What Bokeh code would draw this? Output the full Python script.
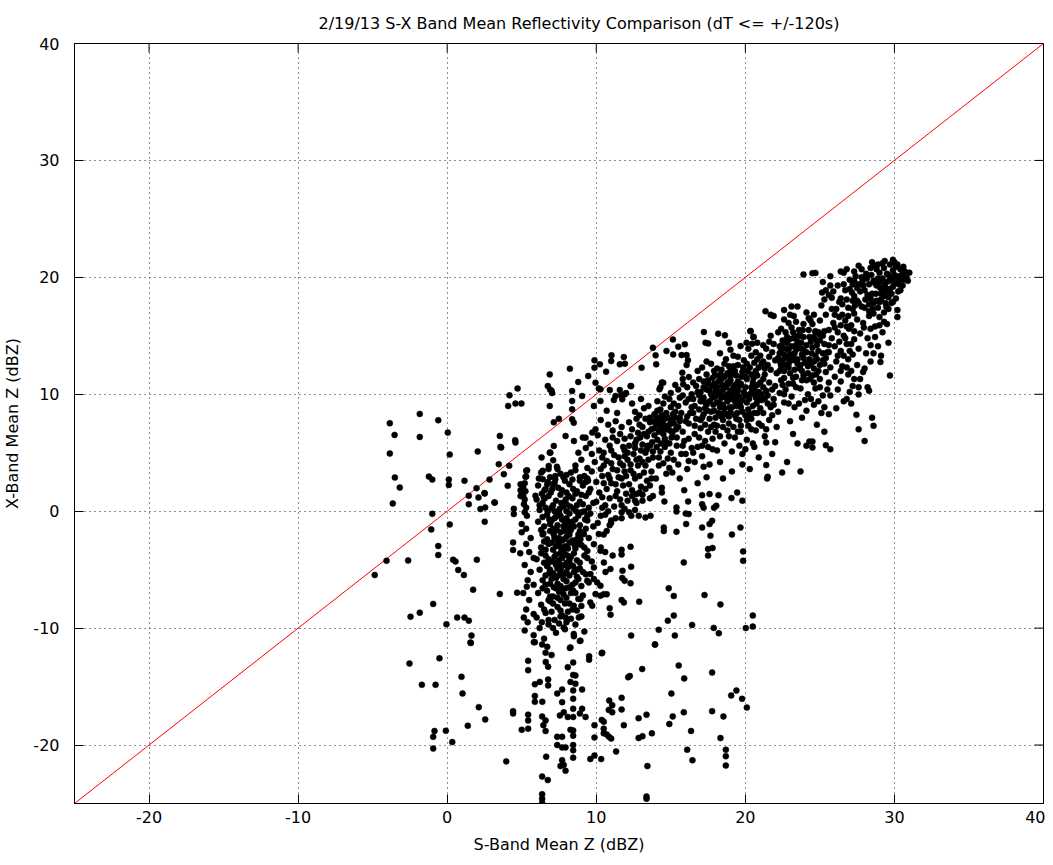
from bokeh.plotting import figure
from bokeh.models import SingleIntervalTicker, Range1d, CustomJSTickFormatter
from bokeh.embed import file_html
from bokeh.resources import INLINE

# ---------------- data ----------------
title_text = "2/19/13  S-X Band Mean Reflectivity Comparison (dT <= +/-120s)"
x_label = "S-Band Mean Z (dBZ)"
y_label = "X-Band Mean Z (dBZ)"
axis_limits = [-25, 40]
tick_values = [-20, -10, 0, 10, 20, 30, 40]
one_to_one = [-25, 40]

# sparse points left of the main cloud  (S-band, X-band)
left_pts = [
    (-3.85, 7.52), (-3.53, 6.52), (-3.85, 4.93), (-3.51, 2.88), (-3.18, 2.02), (-1.84, 8.32), (-1.84, 6.35),
    (-0.6, 7.78), (-1.23, 2.96), (-1.0, 2.7), (0.04, 6.72), (0.17, 4.84), (0.11, 2.7), (0.11, 2.25), (1.16, 2.6),
    (2.05, 5.1), (1.97, 1.97), (1.45, 1.32), (2.5, 1.55), (2.84, 2.7), (3.53, 6.44), (3.62, 5.44), (3.46, 4.02),
    (3.8, 3.17), (4.16, 3.88), (4.06, 2.17), (4.18, 9.91), (4.09, 9.0), (4.72, 10.5), (4.58, 9.2), (4.98, 9.2),
    (4.56, 6.07), (3.57, 5.5), (4.58, 5.87), (3.17, 0.74),
    (-3.65, 0.66), (-1.0, -0.22), (-1.07, -1.56), (-0.6, -2.98), (-0.6, -3.75), (-4.07, -4.24), (-4.86, -5.46),
    (-2.62, -4.21), (0.17, -1.13), (0.4, -4.15), (0.56, -4.3), (0.74, -5.03), (1.12, -5.46), (1.99, -4.15),
    (1.74, -6.71), (3.53, -7.08), (4.69, -6.97), (5.34, -6.46), (-0.94, -7.93), (-2.46, -9.02), (-1.84, -8.68),
    (-0.05, -9.67), (0.67, -9.1), (1.16, -9.1), (1.45, -9.36), (1.63, -10.64), (1.56, -11.24), (2.52, 1.51),
    (3.19, 0.74), (2.52, -0.9), (2.1, 1.17), (2.23, 0.18), (2.55, 0.32), (1.45, 0.6), (4.42, -2.67), (4.42, -3.32),
    (4.47, 0.2), (4.47, -0.25),
    (-2.53, -13.03), (-0.52, -12.58), (-1.7, -14.85), (-0.78, -14.85), (0.96, -14.17), (1.03, -15.59),
    (1.59, -11.27), (2.12, -16.76), (2.55, -17.81), (1.38, -18.35), (-0.85, -18.8), (-0.94, -19.3),
    (-0.09, -18.78), (0.34, -19.75), (-0.94, -20.3), (3.96, -21.4), (4.42, -17.1), (4.42, -17.3),
]

# vertical cloud around S = 5..10 dBZ
column_pts = [
    (4.92, 2.3), (4.92, 1.8), (4.92, 1.3), (5.3, 2.96), (5.3, 3.45), (5.92, 1.32), (6.33, 4.59), (6.41, 3.45),
    (6.41, 2.74), (6.71, 2.31), (7.11, 2.31), (6.53, 1.8), (6.48, 1.17), (6.88, 11.7), (6.75, 10.7), (7.04, 10.1),
    (6.9, 10.4), (7.0, 10.3), (6.88, 9.0), (7.15, 7.6), (7.49, 7.9), (7.15, 5.58), (6.88, 5.01), (7.11, 4.36),
    (7.36, 3.8), (7.6, 3.2), (5.36, 3.5), (5.25, 2.94), (6.92, 5.0), (6.81, 3.87),
    (5.2, 2.4), (5.1, 2.0), (5.25, 1.7), (5.1, 1.3), (5.2, 1.0), (5.15, 0.6), (5.3, 0.3), (5.2, -0.1),
    (5.35, -0.4), (5.05, 1.6), (5.0, -1.1), (5.0, -1.8), (5.3, -1.5), (5.6, -2.3), (5.3, -2.8), (4.9, -3.6),
    (5.5, -3.5), (5.8, -4.0), (5.2, -4.6), (5.6, -5.2), (5.4, -5.9), (5.8, -6.3), (5.1, -7.0), (5.5, -7.6),
    (5.3, -8.4), (5.8, -8.8), (5.4, -9.5), (5.2, -10.2), (5.8, -10.6), (5.14, -9.1), (5.81, -11.2),
    (6.3, 3.3), (6.9, 2.9), (7.4, 3.6), (8.0, 3.1), (8.6, 3.5), (9.2, 3.0), (9.7, 3.4),
    (6.1, 2.2), (6.6, 1.9), (7.2, 2.4), (7.7, 1.8), (8.2, 2.3), (8.7, 1.7), (9.1, 2.2), (9.6, 1.9), (7.9, 2.6),
    (6.0, 1.0), (6.4, 0.7), (6.8, 1.3), (7.3, 0.9), (7.6, 1.4), (8.0, 0.6), (8.4, 1.1), (8.9, 0.8), (9.3, 1.3),
    (9.8, 0.7), (7.1, 0.5), (8.6, 1.5),
    (6.2, 0.1), (6.7, -0.3), (7.0, 0.3), (7.5, -0.1), (7.8, 0.4), (8.2, -0.2), (8.5, 0.2), (8.8, -0.4),
    (9.2, 0.0), (9.6, -0.2), (7.3, -0.45), (8.0, 0.0),
    (6.1, -0.9), (6.5, -1.3), (7.0, -0.8), (7.4, -1.2), (7.7, -0.7), (8.1, -1.4), (8.4, -0.9), (8.9, -1.2),
    (9.4, -0.8), (9.8, -1.3), (7.9, -1.0),
    (6.4, -2.0), (6.9, -1.7), (7.2, -2.3), (7.6, -1.8), (8.0, -2.2), (8.3, -1.6), (8.7, -2.4), (9.1, -1.9),
    (9.5, -2.3), (7.4, -2.6),
    (6.3, -3.1), (6.8, -2.8), (7.1, -3.3), (7.5, -2.9), (7.8, -3.4), (8.2, -2.7), (8.6, -3.2), (9.0, -2.9),
    (9.4, -3.4), (7.9, -3.0),
    (6.0, -4.1), (6.6, -3.8), (7.0, -4.3), (7.3, -3.7), (7.7, -4.0), (8.0, -4.4), (8.3, -3.9), (8.7, -4.2),
    (9.2, -3.8), (9.7, -4.3), (7.5, -4.5),
    (6.2, -5.0), (6.7, -4.7), (7.1, -5.3), (7.4, -4.9), (7.8, -5.4), (8.1, -4.8), (8.5, -5.2), (8.9, -4.9),
    (9.3, -5.4), (7.6, -5.1),
    (6.4, -5.9), (6.9, -6.2), (7.3, -5.7), (7.6, -6.4), (8.0, -6.0), (8.4, -6.3), (8.8, -5.8), (9.5, -6.1),
    (6.1, -7.0), (6.7, -6.8), (7.1, -7.3), (7.5, -6.9), (8.0, -7.4), (8.6, -7.0), (9.1, -7.2),
    (6.3, -8.0), (6.9, -7.7), (7.4, -8.2), (7.9, -7.9), (8.4, -8.4), (9.0, -8.1), (9.6, -7.8),
    (6.0, -9.1), (6.6, -8.7), (7.2, -9.3), (7.7, -8.9), (8.3, -9.2), (9.0, -9.0),
    (6.2, -10.0), (6.8, -9.7), (7.3, -10.4), (7.9, -10.1), (8.5, -10.7), (9.2, -10.3), (6.5, -10.9),
    (9.17, -1.96), (8.94, -2.39), (9.84, -2.82), (10.17, -1.96), (10.28, -3.39), (10.51, -4.39), (9.84, -4.81),
    (9.61, -5.38), (9.39, -5.95), (9.84, -5.81), (10.06, -6.09), (10.28, -6.38), (9.95, -7.09), (10.28, -7.23),
    (9.73, -8.09), (8.94, -7.52), (8.49, -8.09), (8.83, -9.09), (7.94, -9.09), (7.82, -9.94), (8.49, -10.5),
    (8.94, -11.08), (8.27, -11.65),
    (5.43, -12.8), (5.43, -13.6), (5.88, -14.8), (6.21, -14.6), (5.88, -15.8), (5.88, -16.3), (6.38, -16.3),
    (5.88, -11.2), (6.37, -11.4), (6.71, -11.6), (6.6, -12.1), (7.0, -12.3), (6.61, -12.9), (6.77, -13.3),
    (6.77, -14.4), (6.77, -14.9), (6.37, -17.55), (6.6, -17.9), (6.45, -18.3), (6.6, -18.8), (6.64, -21.0),
    (6.37, -22.7), (6.75, -23.0), (6.37, -24.2), (6.37, -24.6), (6.37, -24.95), (7.38, -19.3), (7.38, -20.0),
    (7.38, -15.6), (7.56, -17.47), (7.6, -21.8), (5.43, -17.4), (5.43, -17.9), (5.43, -18.6), (5.0, -18.7),
    (8.23, -11.7), (8.9, -11.1), (9.52, -12.4), (9.52, -12.7), (10.37, -12.15), (8.09, -13.34), (8.45, -12.94),
    (8.45, -14.0), (8.6, -14.05), (8.27, -14.6), (8.6, -14.76), (8.45, -15.33), (8.45, -16.04), (7.71, -15.25),
    (7.71, -16.33), (9.05, -15.25), (8.9, -17.3), (9.05, -16.9), (8.45, -16.9), (8.45, -17.6), (9.28, -17.6),
    (7.82, -17.2), (8.09, -17.6), (8.27, -18.7), (8.45, -18.75), (8.45, -19.2), (7.71, -19.3), (7.71, -20.2),
    (7.94, -20.2), (8.45, -20.0), (8.45, -20.45), (8.45, -21.08), (7.71, -21.3), (7.82, -21.7), (7.94, -22.2),
    (9.88, -18.3), (9.88, -19.35), (9.88, -20.9), (9.6, -21.2), (10.33, -21.2),
]

# more points of the dense vertical cloud
column_fill_pts = [
    (6.15, 2.8), (6.75, 2.5), (7.25, 3.0), (7.8, 2.9), (8.4, 2.7), (8.9, 2.9), (9.45, 2.6),
    (6.35, 1.5), (6.95, 1.6), (7.45, 2.0), (8.0, 1.6), (8.45, 1.9), (9.0, 1.4), (9.5, 1.6),
    (6.2, 0.5), (6.6, 0.3), (7.2, 0.0), (7.65, 0.7), (8.25, 0.4), (8.7, 0.5), (9.1, 0.6), (9.5, 0.3), (7.95, 1.0),
    (6.4, -0.5), (6.9, -1.1), (7.2, -0.6), (7.6, -0.4), (8.0, -0.6), (8.6, -0.7), (9.0, -0.1), (9.4, -0.4),
    (6.75, 0.0), (6.3, -1.6), (6.7, -2.4), (7.1, -1.5), (7.5, -2.3), (7.9, -1.7), (8.2, -2.0), (8.5, -1.3),
    (8.9, -1.7), (9.3, -1.5), (6.5, -2.6), (7.0, -2.7), (7.3, -3.0), (7.7, -2.5), (8.1, -3.2), (8.4, -2.5),
    (8.8, -2.8), (9.2, -3.1), (7.6, -3.6), (6.3, -3.6), (6.8, -4.1), (7.2, -3.9), (7.5, -4.2), (7.9, -3.7),
    (8.2, -4.2), (8.5, -3.6), (8.9, -4.4), (9.4, -4.0), (6.5, -4.4), (6.9, -5.0), (7.3, -4.6), (7.65, -4.8),
    (8.0, -5.2), (8.3, -4.6), (8.7, -5.0), (9.1, -5.2), (7.2, -5.6), (6.6, -5.5), (7.0, -5.8), (7.4, -6.2),
    (7.8, -5.8), (8.2, -6.5), (8.6, -6.1), (9.0, -6.4), (7.7, -6.8), (6.4, -6.6), (6.9, -7.3), (7.3, -6.6),
    (7.8, -7.1), (8.3, -7.0), (8.8, -7.5), (7.1, -7.9), (7.6, -7.6), (6.5, -8.4), (7.0, -8.6), (7.6, -8.5),
    (8.1, -8.6), (8.7, -8.5), (6.8, -9.3), (7.5, -9.6), (8.0, -9.5), (8.6, -9.7), (7.1, -10.0),
]

# main diagonal cloud
band_pts = [
    (8.6, 3.9), (9.0, 4.4), (9.4, 3.7), (9.9, 4.2), (10.3, 3.6), (8.8, 5.0), (9.3, 5.4), (9.7, 4.9), (10.2, 5.2),
    (8.5, 6.0), (9.1, 6.3), (9.6, 5.8), (10.1, 6.5), (10.4, 4.6), (8.9, 2.6), (9.4, 2.8), (10.0, 2.5),
    (10.4, 3.0), (10.2, 1.6), (10.0, 0.8), (10.4, 0.3), (10.3, -0.4), (10.1, -1.0),
    (8.38, 10.28), (8.38, 9.42), (8.38, 8.71), (8.38, 7.86), (8.49, 7.57), (7.94, 6.43), (9.28, 6.29),
    (9.73, 6.72), (9.95, 7.0), (9.05, 9.85), (9.84, 9.0), (10.28, 9.42),
    (10.6, 0.5), (10.9, 1.1), (11.2, 0.4), (11.6, 1.0), (11.9, 0.2), (10.7, 1.9), (11.0, 2.4), (11.4, 1.7),
    (11.8, 2.2), (10.8, 3.1), (11.1, 3.6), (11.5, 2.9), (11.9, 3.4), (10.7, 4.3), (11.2, 4.8), (11.6, 4.1),
    (11.9, 4.7), (10.9, 5.6), (11.4, 6.0), (11.8, 5.5), (11.1, 6.9), (11.7, 7.2), (10.6, -0.3), (11.3, -0.6),
    (11.7, -0.1), (12.0, 1.5), (10.9, -1.2), (11.0, -0.8),
    (12.1, 0.9), (12.4, 1.3), (12.7, 0.7), (13.1, 1.4), (12.2, 2.3), (12.6, 2.8), (13.0, 2.1), (13.4, 2.6),
    (12.3, 3.5), (12.8, 3.9), (13.2, 3.3), (12.1, 4.4), (12.5, 4.9), (12.9, 4.5), (13.3, 5.0), (12.2, 5.6),
    (12.7, 6.1), (13.1, 5.7), (13.4, 6.4), (12.4, 7.0), (12.9, 7.4), (13.3, 7.9), (12.6, 8.5), (13.2, 8.8),
    (12.35, -0.4), (12.85, -0.4), (13.3, -0.54), (13.64, -0.4), (12.6, 0.1),
    (13.6, 2.2), (14.0, 2.8), (14.4, 2.0), (13.7, 3.4), (14.2, 3.9), (14.7, 3.2), (13.8, 4.6), (14.3, 5.1),
    (14.8, 4.5), (13.6, 5.6), (14.1, 6.1), (14.5, 6.6), (14.9, 5.8), (13.7, 7.0), (14.0, 7.5), (14.3, 7.2),
    (14.6, 7.9), (14.9, 7.4), (13.9, 8.3), (14.3, 8.7), (14.7, 8.4), (15.0, 8.9), (14.1, 9.4), (14.6, 9.8),
    (14.4, 6.9), (14.2, 8.0), (14.53, -1.4), (14.53, -1.7), (14.57, 0.83), (14.4, 1.6),
    (15.1, 3.3), (15.6, 2.8), (16.1, 3.6), (15.2, 4.4), (15.7, 4.9), (16.2, 4.3), (15.4, 5.6), (15.9, 6.0),
    (16.4, 5.4), (15.1, 6.7), (15.5, 7.2), (15.8, 6.8), (16.2, 7.5), (15.3, 8.0), (15.7, 8.4), (16.1, 8.1),
    (16.4, 8.9), (15.2, 9.2), (15.6, 9.7), (16.0, 9.3), (16.4, 10.0), (15.5, 10.4), (16.1, 10.6),
    (15.38, 0.32), (15.38, -0.03), (15.38, -1.76), (16.03, -1.1), (16.0, -0.2), (16.2, -0.25), (16.16, 0.83),
    (15.9, 1.8),
    (16.6, 4.2), (17.1, 4.7), (17.6, 4.0), (16.8, 5.5), (17.3, 6.0), (17.8, 5.3), (16.6, 6.6), (17.0, 7.1),
    (17.5, 6.8), (17.9, 7.4), (16.7, 7.9), (17.2, 8.3), (17.6, 7.9), (17.9, 8.6), (16.6, 9.0), (17.0, 9.4),
    (17.4, 9.1), (17.8, 9.7), (16.8, 10.2), (17.2, 10.6), (17.6, 10.3), (17.9, 10.9), (16.9, 11.3),
    (17.4, 11.7), (17.8, 11.4), (17.1, 12.3), (17.7, 12.6), (17.1, 1.37), (17.6, 1.46), (17.1, 0.6),
    (17.2, 0.3), (17.9, 0.3), (18.05, 0.46), (17.1, -1.4), (17.6, -1.1), (17.77, -0.82), (17.66, -2.1),
    (17.5, -3.24), (17.8, -3.15), (17.5, -3.8), (16.8, 2.4), (17.4, 2.9),
    (18.1, 5.2), (18.6, 5.8), (19.1, 5.1), (18.3, 6.4), (18.8, 6.9), (19.3, 6.3), (18.1, 7.3), (18.5, 7.8),
    (18.9, 7.5), (19.4, 7.9), (18.2, 8.4), (18.6, 8.8), (19.0, 8.5), (19.4, 9.0), (18.1, 9.3), (18.4, 9.7),
    (18.8, 9.4), (19.1, 9.9), (19.45, 9.6), (18.3, 10.2), (18.7, 10.6), (19.0, 10.3), (19.3, 10.8),
    (18.2, 11.1), (18.6, 11.5), (19.0, 11.2), (19.4, 11.6), (18.4, 12.1), (18.9, 12.4), (19.3, 12.0),
    (18.7, 13.0), (19.2, 13.3), (18.9, 8.1), (18.5, 9.1), (19.2, 10.0), (18.8, 10.0), (18.2, 1.37),
    (19.07, 1.12), (19.45, 1.6), (18.5, 2.8), (19.1, 3.4), (18.3, 4.2),
    (19.6, 5.6), (20.1, 6.1), (20.6, 5.5), (19.7, 6.8), (20.2, 7.3), (20.7, 6.9), (19.6, 7.8), (20.0, 8.2),
    (20.4, 7.9), (20.8, 8.4), (19.7, 8.9), (20.1, 9.3), (20.5, 9.0), (20.9, 9.5), (19.6, 9.8), (19.9, 10.2),
    (20.3, 10.0), (20.6, 10.5), (20.9, 10.2), (19.7, 10.9), (20.1, 11.3), (20.5, 11.0), (20.8, 11.6),
    (19.8, 11.9), (20.3, 12.3), (20.7, 12.0), (19.9, 12.9), (20.4, 13.3), (20.8, 13.0), (20.2, 13.9),
    (20.34, 15.4), (20.56, 14.9), (19.8, 0.9), (19.1, -2.0), (19.67, -1.4), (19.85, -3.44), (19.85, -4.24),
    (20.0, 5.3), (19.8, 4.9), (19.8, 4.0), (20.5, 5.8), (20.9, 4.6), (20.3, 3.6),
    (21.1, 7.3), (21.6, 7.8), (22.1, 7.2), (21.2, 8.4), (21.7, 8.9), (22.2, 8.5), (21.1, 9.5), (21.5, 9.9),
    (21.9, 9.6), (22.3, 10.1), (21.2, 10.6), (21.6, 11.0), (22.0, 10.7), (22.4, 11.2), (21.3, 11.7),
    (21.7, 12.1), (22.1, 11.8), (22.4, 12.4), (21.2, 12.8), (21.6, 13.2), (22.0, 12.9), (22.3, 13.5),
    (21.4, 13.9), (21.9, 14.3), (22.3, 14.1), (21.7, 15.0), (22.2, 15.3), (21.35, 17.1), (21.7, 16.8),
    (21.9, 16.7), (21.4, 5.87), (21.4, 3.94), (21.5, 2.94), (21.46, 2.8), (22.47, 3.3), (21.3, 6.4),
    (22.0, 5.9), (21.8, 4.9),
    (22.6, 9.3), (23.1, 9.8), (23.6, 9.2), (22.7, 10.4), (23.2, 10.9), (23.7, 10.5), (22.6, 11.4), (23.0, 11.8),
    (23.4, 11.5), (23.8, 12.0), (22.7, 12.5), (23.1, 12.9), (23.5, 12.6), (23.9, 13.1), (22.6, 13.4),
    (22.9, 13.8), (23.3, 13.5), (23.6, 14.0), (23.95, 13.7), (22.8, 14.4), (23.2, 14.8), (23.5, 14.5),
    (23.9, 14.9), (22.7, 15.3), (23.1, 15.7), (23.6, 15.5), (23.9, 16.0), (22.6, 17.2), (23.1, 17.5),
    (23.5, 17.5), (23.0, 16.8), (23.25, 16.7), (22.8, 4.2), (23.7, 3.4), (23.5, 5.8), (24.1, 5.6), (23.0, 7.7),
    (23.8, 8.0), (23.2, 6.6),
    (24.1, 8.6), (24.6, 9.1), (25.1, 8.4), (24.2, 10.0), (24.7, 10.5), (25.2, 9.9), (24.1, 11.2), (24.5, 11.6),
    (25.0, 11.3), (25.4, 11.9), (24.2, 12.4), (24.6, 12.8), (25.0, 12.5), (25.4, 13.1), (24.1, 13.6),
    (24.5, 14.0), (24.9, 13.7), (25.3, 14.3), (24.3, 14.9), (24.7, 15.3), (25.2, 15.0), (24.1, 17.0),
    (24.25, 16.5), (24.37, 16.3), (24.5, 16.0), (24.7, 15.4), (24.9, 15.3), (25.0, 15.1), (25.15, 18.7),
    (25.4, 18.9), (25.3, 18.1), (23.9, 20.25), (24.5, 20.36), (24.7, 20.38), (24.3, 5.95), (24.5, 5.95),
    (24.5, 5.45), (25.4, 5.64), (25.7, 5.3), (24.8, 7.4), (25.3, 6.8),
    (25.6, 8.3), (26.1, 8.8), (26.6, 9.4), (25.7, 9.9), (26.2, 10.4), (26.8, 9.6), (25.6, 11.0), (26.0, 11.5),
    (26.4, 11.1), (26.9, 11.7), (25.7, 12.3), (26.1, 12.8), (26.5, 12.4), (26.9, 13.0), (25.6, 13.6),
    (26.0, 14.1), (26.4, 13.7), (26.8, 14.3), (25.8, 14.8), (26.2, 15.3), (26.6, 15.0), (26.95, 15.6),
    (25.9, 16.1), (26.3, 16.6), (26.7, 16.3), (26.1, 17.3), (26.5, 17.7), (26.9, 17.4), (25.6, 18.5),
    (25.8, 18.25), (25.9, 18.8), (26.4, 18.2), (26.7, 18.9), (26.2, 19.3), (26.4, 20.5), (26.8, 20.7),
    (26.6, 20.4), (25.7, 20.1),
    (27.1, 9.2), (27.6, 9.99), (27.45, 8.24), (27.6, 7.0), (28.0, 6.0), (27.2, 10.7), (27.7, 11.3),
    (28.2, 10.6), (27.1, 12.0), (27.5, 12.5), (28.0, 12.2), (28.4, 12.8), (27.2, 13.4), (27.6, 13.9),
    (28.1, 13.5), (27.3, 14.7), (27.7, 15.2), (28.2, 14.8), (27.1, 15.9), (27.5, 16.4), (27.9, 16.1),
    (28.3, 16.7), (27.2, 17.3), (27.6, 17.8), (28.0, 17.4), (28.3, 17.7), (27.3, 18.4), (27.7, 18.8),
    (28.2, 18.5), (27.2, 19.4), (27.0, 19.8), (27.3, 19.7), (27.4, 20.1), (27.3, 20.5), (27.8, 20.7),
    (27.9, 19.3), (28.4, 20.8), (28.3, 17.1), (28.6, 17.8), (28.5, 8.0), (28.6, 7.3), (28.3, 10.3),
    (28.7, 21.0), (28.8, 20.7), (29.2, 21.2), (29.3, 20.8), (29.7, 21.1), (29.9, 20.6), (30.1, 20.9),
    (30.4, 20.7), (30.8, 20.0), (29.8, 19.9), (30.0, 19.5), (30.3, 19.4), (30.6, 19.8), (29.5, 19.6),
    (28.6, 19.7), (28.9, 19.9), (29.1, 18.1), (29.4, 17.8), (28.8, 18.0), (29.1, 18.6), (29.4, 19.1),
    (29.8, 18.6), (30.1, 18.2), (30.2, 17.2), (30.2, 16.6), (29.6, 17.3), (29.0, 16.6), (28.7, 15.8),
    (29.2, 15.3), (29.6, 14.4), (29.1, 13.3), (29.7, 11.6), (29.06, 12.76), (28.9, 14.1), (29.5, 16.0),
    (30.5, 20.2), (31.0, 20.4), (29.6, 20.2),
    (17.22, 15.32), (18.18, 15.18), (18.63, 15.04), (17.33, 14.41), (17.51, 14.35), (18.9, 14.41),
    (19.68, 14.12), (20.35, 15.41), (20.53, 14.9), (20.08, 14.41), (20.46, 14.32), (20.8, 14.41),
    (15.14, 14.69), (15.5, 14.07), (15.94, 14.27), (14.71, 13.7), (15.16, 13.41), (15.72, 13.35),
    (16.06, 13.35), (16.15, 12.9), (16.06, 12.5), (13.8, 13.98), (13.98, 13.33), (14.02, 12.56),
    (13.04, 12.27), (11.85, 13.18), (11.92, 12.61), (11.58, 12.56), (11.02, 13.33), (11.0, 12.84),
    (9.88, 12.9), (9.88, 12.27), (10.24, 12.56), (10.66, 11.93), (8.23, 12.19), (9.46, 11.56), (8.79, 11.05),
    (9.95, 10.99), (10.17, 10.5), (10.28, 10.42), (10.91, 10.36), (11.58, 10.36), (11.67, 9.91),
    (11.9, 9.99), (11.29, 9.85), (11.18, 9.51), (11.74, 9.57), (12.34, 10.7), (14.24, 10.42), (14.49, 10.99),
    (15.77, 11.85), (16.21, 11.47), (15.83, 10.85), (12.0, 10.1), (12.3, 10.7), (14.4, 11.0), (14.3, 10.6),
]

# more points of the dense diagonal cloud
band_fill_pts = [
    (10.4, 1.2), (10.8, 0.0), (11.3, 1.3), (11.7, 0.5), (10.5, 2.4), (10.9, 2.8), (11.3, 2.3), (11.7, 2.8),
    (10.5, 3.9), (11.0, 4.1), (11.4, 3.5), (11.8, 3.9), (10.5, 5.0), (11.0, 5.2), (11.5, 4.6), (11.9, 5.2),
    (10.6, 6.1), (11.1, 6.3), (11.6, 6.6), (10.8, 7.4), (11.3, 7.7), (11.9, 6.2), (10.3, 7.8), (10.7, 8.6),
    (11.4, 8.4),
    (12.0, 3.0), (12.5, 3.2), (12.9, 3.0), (13.3, 3.9), (12.3, 4.0), (12.7, 4.4), (13.1, 4.2), (13.5, 4.4),
    (12.1, 5.0), (12.6, 5.4), (13.0, 5.2), (13.45, 5.6), (12.3, 6.4), (12.8, 6.7), (13.2, 6.6), (12.2, 7.6),
    (12.7, 7.9), (13.1, 7.2), (13.6, 8.0), (12.9, 8.2), (13.5, 9.0), (12.4, 1.8), (12.9, 1.6), (13.3, 1.9),
    (13.7, 2.8), (12.4, 9.2), (13.0, 9.6),
    (13.8, 5.1), (14.2, 4.6), (14.6, 5.5), (15.0, 5.0), (13.9, 6.5), (14.2, 6.8), (14.6, 6.2), (14.95, 6.9),
    (13.85, 7.7), (14.45, 7.6), (14.75, 7.0), (15.2, 7.5), (14.1, 8.6), (14.5, 9.2), (14.9, 9.6), (15.3, 8.5),
    (15.5, 9.0), (15.8, 9.9), (16.2, 9.6), (15.4, 6.3), (15.8, 5.6), (16.2, 6.2), (15.6, 7.7), (16.0, 7.7),
    (16.3, 8.4), (15.0, 10.1), (15.3, 10.8), (15.8, 11.3), (15.5, 4.0), (16.0, 4.9), (14.5, 4.1), (14.9, 3.7),
    (16.6, 7.3), (17.0, 7.8), (17.3, 7.4), (17.7, 7.2), (16.5, 8.4), (16.9, 8.7), (17.3, 8.8), (17.7, 8.5),
    (16.5, 9.6), (16.9, 9.9), (17.2, 9.7), (17.6, 9.4), (16.7, 10.7), (17.0, 10.2), (17.4, 10.4),
    (17.75, 10.7), (16.5, 11.0), (17.2, 11.1), (17.5, 11.2), (16.8, 12.0), (17.4, 12.8), (17.9, 12.0),
    (17.1, 5.6), (17.5, 5.5), (16.9, 6.3), (17.8, 6.2), (16.5, 5.0), (17.2, 3.8),
    (18.0, 8.0), (18.3, 8.9), (18.7, 8.3), (19.1, 8.9), (19.45, 8.4), (18.0, 9.8), (18.6, 9.9), (19.0, 9.6),
    (19.3, 9.4), (18.1, 10.6), (18.5, 10.4), (18.9, 10.9), (19.2, 10.5), (19.5, 10.3), (18.4, 11.3),
    (18.8, 11.0), (19.2, 11.8), (19.5, 11.1), (18.1, 12.2), (18.6, 12.6), (19.0, 12.0), (19.5, 12.5),
    (18.5, 7.2), (18.9, 6.4), (19.2, 7.2), (18.0, 6.8), (19.5, 6.8), (18.3, 13.5), (19.0, 13.8), (19.5, 13.2),
    (19.8, 8.5), (20.2, 8.7), (20.6, 8.4), (21.0, 8.8), (19.8, 9.5), (20.25, 9.6), (20.7, 9.7), (21.1, 10.0),
    (20.0, 10.6), (20.4, 10.6), (20.8, 10.8), (21.2, 11.3), (20.0, 11.5), (20.4, 11.7), (20.9, 12.3),
    (21.3, 12.2), (20.1, 12.6), (20.6, 12.7), (21.0, 13.3), (21.5, 12.5), (20.7, 13.6), (21.2, 14.2),
    (21.6, 14.5), (21.8, 13.6), (21.4, 10.3), (21.8, 10.4), (21.5, 9.2), (21.9, 9.1), (20.4, 7.0), (20.9, 7.5),
    (21.4, 7.0), (21.8, 8.2),
    (22.3, 12.0), (22.6, 12.0), (22.9, 12.3), (23.3, 12.1), (23.7, 12.5), (22.5, 12.9), (22.8, 13.1),
    (23.2, 13.2), (23.5, 13.0), (23.8, 13.4), (22.4, 13.8), (22.75, 13.9), (23.1, 14.1), (23.4, 14.2),
    (23.75, 14.4), (22.5, 14.6), (22.95, 14.7), (23.35, 14.9), (23.7, 15.0), (22.4, 15.6), (22.9, 16.1),
    (23.4, 16.2), (22.6, 16.4), (22.5, 10.8), (22.9, 10.9), (23.4, 10.6), (23.8, 11.2), (22.9, 9.2), (23.3, 8.9),
    (24.0, 9.5),
    (24.2, 11.8), (24.6, 12.2), (24.9, 12.0), (25.3, 12.6), (24.3, 13.0), (24.7, 13.3), (25.2, 13.5),
    (25.6, 14.2), (24.4, 14.5), (24.8, 14.6), (25.3, 15.4), (25.6, 15.5), (24.6, 16.8), (25.0, 16.3),
    (25.4, 16.8), (25.8, 17.3), (25.1, 17.6), (24.6, 11.0), (25.0, 10.6), (25.5, 10.4), (24.4, 9.6), (24.9, 9.4),
    (25.3, 8.9), (25.7, 19.3), (25.2, 19.6),
    (26.2, 13.3), (26.6, 13.3), (27.0, 13.7), (26.3, 14.5), (26.7, 14.8), (27.1, 14.3), (26.0, 15.7),
    (26.4, 15.9), (26.8, 15.8), (27.3, 15.4), (26.0, 16.8), (26.5, 16.8), (26.9, 16.7), (27.3, 16.9),
    (26.3, 17.9), (26.8, 18.1), (27.2, 18.0), (27.5, 18.0), (26.6, 19.4), (27.0, 19.0), (27.6, 19.4),
    (27.8, 20.0), (26.4, 12.0), (26.8, 12.3), (27.3, 11.3), (27.9, 11.9), (27.0, 10.2), (27.6, 10.6),
    (28.0, 18.9), (28.3, 19.4), (28.5, 18.6), (28.8, 19.3), (29.0, 19.6), (29.2, 19.9), (29.5, 20.3),
    (29.7, 19.0), (30.0, 20.2), (30.3, 20.1), (29.3, 18.4), (29.6, 18.3), (29.9, 17.9), (28.6, 16.9),
    (28.9, 17.4), (29.3, 17.0), (29.8, 17.8), (28.4, 15.6), (28.7, 14.9), (29.0, 15.9), (29.3, 16.2),
    (28.4, 14.2), (28.6, 13.5), (30.6, 20.9), (30.0, 21.3), (29.0, 20.4), (28.5, 21.3), (28.1, 20.3),
    (27.6, 21.0), (30.9, 19.7), (30.4, 18.9),
]

# densest cores of the cloud
core_fill_pts = [
    (6.55, 1.1), (7.05, 1.9), (7.55, 0.2), (8.15, 1.3), (8.65, 0.0), (9.25, -0.7), (6.85, -0.7), (7.35, -1.6),
    (7.85, -2.4), (8.35, -1.1), (8.8, -2.0), (6.6, -3.3), (7.15, -2.0), (7.65, -3.2), (8.05, -3.8), (8.55, -2.9),
    (6.75, -4.5), (7.25, -4.4), (7.85, -4.6), (8.45, -4.7), (6.85, -5.3), (7.45, -5.5), (8.2, -5.5), (8.7, -5.6),
    (6.6, -6.3), (7.15, -6.5), (7.95, -6.6), (8.45, -6.8), (6.8, -7.6), (7.4, -7.4), (8.2, -7.9), (7.6, -9.0),
    (6.35, -9.5), (7.25, 2.7), (6.8, 3.6), (8.3, 3.3), (9.3, 2.5), (8.1, -0.9), (6.45, -1.9), (7.8, -1.3),
    (17.1, 8.0), (17.45, 8.6), (17.85, 9.1), (18.25, 9.3), (18.55, 8.4), (18.95, 8.9), (19.3, 8.2), (19.65, 9.2),
    (17.3, 9.3), (17.7, 10.0), (18.15, 10.0), (18.45, 10.8), (18.75, 9.7), (19.15, 10.4), (19.6, 10.7),
    (20.0, 9.9), (20.45, 10.3), (20.85, 9.9), (17.5, 10.9), (17.95, 11.6), (18.35, 11.7), (18.8, 11.8),
    (19.2, 12.4), (19.75, 11.5), (20.15, 12.0), (20.55, 11.4), (21.0, 11.0), (20.3, 8.3), (20.75, 9.2),
    (21.3, 9.6), (18.4, 8.1), (19.7, 7.3), (20.1, 7.8), (19.85, 12.3), (21.1, 12.6), (18.0, 10.3), (19.4, 10.0),
    (20.6, 10.0), (19.0, 11.5), (18.2, 11.6),
    (22.35, 12.7), (22.7, 13.2), (23.0, 13.4), (23.4, 13.8), (23.75, 13.9), (24.1, 14.2), (24.45, 13.5),
    (24.8, 14.2), (22.45, 14.2), (22.8, 14.9), (23.2, 15.3), (23.55, 15.0), (23.85, 15.5), (24.25, 15.5),
    (24.6, 14.9), (25.0, 14.6), (22.9, 12.6), (23.35, 12.9), (23.65, 12.2), (24.0, 12.7), (24.4, 12.6),
    (24.8, 13.0), (25.2, 12.9), (25.5, 13.6), (22.6, 10.0), (23.2, 11.4), (23.9, 11.6), (24.35, 11.3),
    (24.75, 11.7), (22.2, 13.1),
    (27.15, 18.7), (27.5, 19.1), (27.85, 19.6), (28.15, 19.9), (28.45, 20.2), (28.7, 19.5), (29.05, 19.1),
    (29.35, 19.4), (29.65, 19.7), (29.95, 20.0), (30.25, 19.7), (30.55, 19.3), (28.05, 18.1), (28.4, 18.2),
    (28.75, 18.6), (29.2, 18.8), (29.55, 18.8), (29.9, 19.2), (30.25, 18.8), (27.8, 17.5), (28.55, 17.3),
    (29.0, 17.9), (29.45, 17.5), (28.9, 21.1), (29.35, 21.4), (29.9, 21.5), (30.2, 21.1), (30.7, 20.5),
    (27.35, 17.6), (27.95, 15.7),
    (13.4, 5.3), (13.75, 5.9), (14.05, 5.5), (14.35, 5.8), (14.7, 5.9), (15.05, 6.3), (13.5, 6.8), (13.9, 7.1),
    (14.25, 7.55), (14.6, 7.3), (15.0, 7.8), (15.35, 7.0), (13.6, 7.6), (14.05, 8.0), (14.4, 8.2), (14.8, 8.0),
    (15.15, 8.3), (15.6, 8.0), (12.6, 5.8), (12.95, 6.3),
]

# sparse points below the diagonal cloud
low_pts = [
    (10.37, -17.85), (10.5, -18.0), (10.5, -18.6), (10.5, -19.0), (10.7, -19.1), (10.85, -19.3), (11.0, -19.45),
    (10.87, -16.2), (11.07, -16.6), (10.84, -17.0), (11.07, -17.2), (11.7, -15.96), (11.7, -16.96),
    (11.85, -18.3), (11.33, -20.55), (12.14, -14.2), (12.25, -14.1), (13.08, -13.5), (12.84, -17.7),
    (13.37, -17.4), (12.84, -19.4), (13.1, -19.25), (13.73, -19.0), (13.43, -21.8), (13.37, -24.4),
    (13.37, -24.6), (15.04, -15.6), (15.53, -13.2), (15.9, -14.3), (15.13, -17.55), (14.9, -18.2),
    (15.87, -17.2), (16.36, -18.8), (16.1, -20.4), (16.45, -21.3), (17.77, -13.8), (17.77, -17.1),
    (18.53, -17.55), (18.33, -19.4), (18.69, -20.4), (18.69, -20.95), (18.69, -21.75), (19.05, -15.76),
    (19.4, -15.34), (19.78, -16.05), (20.1, -16.8), (13.95, -11.4), (10.4, -12.1),
    (15.87, -4.38), (14.86, -6.6), (15.2, -7.25), (17.26, -7.17), (18.33, -7.97), (15.2, -8.93), (14.8, -9.36),
    (16.43, -9.73), (17.88, -9.98), (18.22, -10.44), (14.19, -10.15), (15.27, -10.64), (12.34, -10.64),
    (13.93, -11.4), (20.03, -10.0), (20.5, -9.87), (20.5, -8.93), (12.88, -7.74), (11.7, -7.6), (11.85, -7.8),
    (10.9, -8.3), (10.96, -8.85), (12.3, -3.04), (12.34, -4.75), (11.76, -5.1), (11.74, -5.71), (11.9, -5.94),
    (12.3, -6.17), (11.7, -3.3), (11.7, -3.7), (10.6, -3.5), (11.1, -3.8), (10.95, -4.95), (10.62, -5.2),
    (10.5, -7.1), (10.7, -7.1), (10.3, -3.1), (10.5, -2.0), (10.7, -1.7), (11.0, -1.0), (11.7, -0.6),
    (12.2, -0.1), (12.6, 0.9), (13.1, 0.9), (12.7, 1.46), (13.6, 1.1), (13.8, 1.3),
]

# ---------------- figure ----------------
pts = left_pts + column_pts + column_fill_pts + band_pts + band_fill_pts + core_fill_pts + low_pts
s_vals = [p[0] for p in pts]
x_vals = [p[1] for p in pts]

FONT = "DejaVu Sans"

p = figure(width=1045, height=857, output_backend="svg", toolbar_location=None,
           x_range=Range1d(axis_limits[0], axis_limits[1]), y_range=Range1d(axis_limits[0], axis_limits[1]),
           min_border_left=74, min_border_right=2, min_border_top=42, min_border_bottom=54,
           x_axis_label=x_label, y_axis_label=y_label)
p.title.text = title_text
p.title.align = "left"
p.title.offset = 244
p.title.standoff = 22
p.title.text_font = FONT
p.title.text_font_size = "16px"
p.title.text_font_style = "normal"
p.title.text_color = "black"
p.outline_line_color = "black"
p.outline_line_width = 1
p.background_fill_color = "white"
p.border_fill_color = "white"

plain_ticks = CustomJSTickFormatter(code="return tick.toFixed(0);")
for ax in (p.xaxis[0], p.yaxis[0]):
    ax.ticker = SingleIntervalTicker(interval=10)
    ax.formatter = plain_ticks
    ax.major_tick_in = 9
    ax.major_tick_out = 0
    ax.minor_tick_line_color = None
    ax.axis_line_color = "black"
    ax.major_tick_line_color = "black"
    ax.major_label_text_font = FONT
    ax.major_label_text_font_size = "16px"
    ax.major_label_text_color = "black"
    ax.axis_label_text_font = FONT
    ax.axis_label_text_font_size = "16px"
    ax.axis_label_text_font_style = "normal"
    ax.axis_label_text_color = "black"
p.xaxis.major_label_standoff = 3
p.yaxis.major_label_standoff = 11
p.xaxis.axis_label_standoff = 9
p.yaxis.axis_label_standoff = 8

for g in (p.xgrid[0], p.ygrid[0]):
    g.ticker = SingleIntervalTicker(interval=10)
    g.grid_line_color = "#222222"
    g.grid_line_dash = "1 4"
    g.grid_line_width = 1

# inward ticks on the top and right edges of the box (length ~9 px)
top_len = 9 * (axis_limits[1] - axis_limits[0]) / 761.0
right_len = 9 * (axis_limits[1] - axis_limits[0]) / 969.0
p.segment(x0=tick_values, y0=[axis_limits[1]] * len(tick_values), x1=tick_values,
          y1=[axis_limits[1] - top_len] * len(tick_values), line_color="black", line_width=1)
p.segment(x0=[axis_limits[1]] * len(tick_values), y0=tick_values,
          x1=[axis_limits[1] - right_len] * len(tick_values), y1=tick_values, line_color="black", line_width=1)

p.line(x=one_to_one, y=one_to_one, line_color="#ff0000", line_width=1)
p.scatter(x=s_vals, y=x_vals, marker="circle", size=6, fill_color="black", line_color="black",
          line_width=0.5)

open("out.html", "w").write(file_html(p, INLINE))
